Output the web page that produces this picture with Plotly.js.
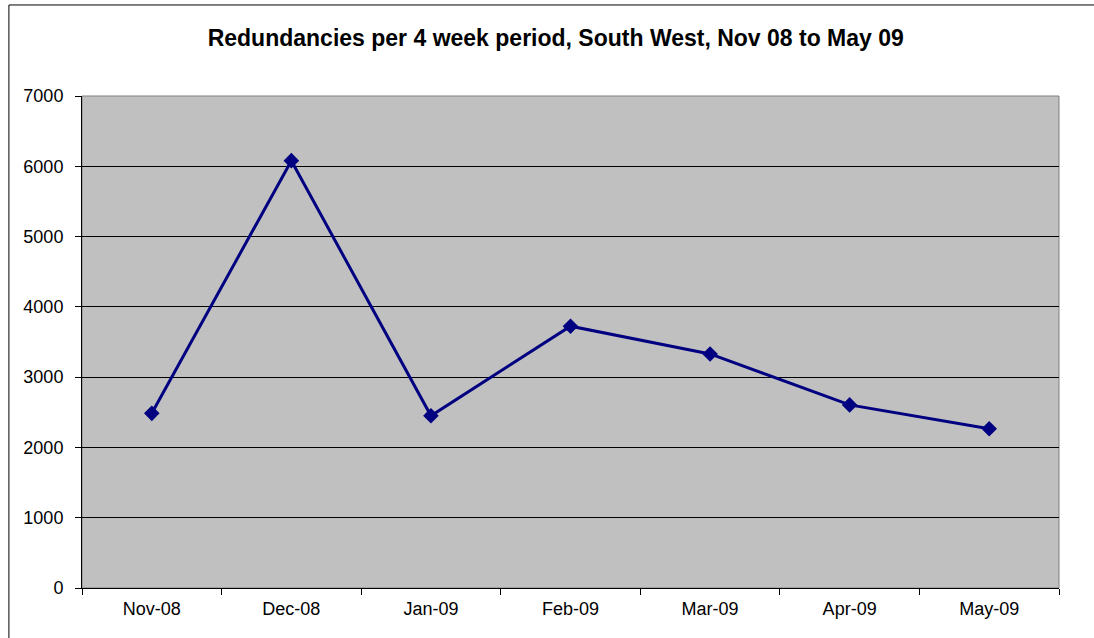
<!DOCTYPE html>
<html>
<head>
<meta charset="utf-8">
<script src="https://cdn.plot.ly/plotly-3.0.1.min.js"></script>
<style>
html,body{margin:0;padding:0;background:#fff;}
#chart{width:1094px;height:638px;}
</style>
</head>
<body>
<div id="chart"></div>
<script>
const categories = ["Nov-08", "Dec-08", "Jan-09", "Feb-09", "Mar-09", "Apr-09", "May-09"];
const redundancies = [2485, 6080, 2450, 3725, 3330, 2605, 2265];
const yTicks = [0, 1000, 2000, 3000, 4000, 5000, 6000, 7000];
const chartTitle = "Redundancies per 4 week period, South West, Nov 08 to May 09";

const font = "Liberation Sans, Arial, sans-serif";

const trace = {
  x: categories,
  y: redundancies,
  type: "scatter",
  mode: "lines+markers",
  line: {color: "#000080", width: 3},
  marker: {symbol: "diamond", size: 12, color: "#000080"},
  hoverinfo: "x+y"
};

const layout = {
  width: 1094,
  height: 638,
  margin: {l: 82, r: 35, t: 96, b: 50, pad: 0},
  paper_bgcolor: "#ffffff",
  plot_bgcolor: "#c0c0c0",
  showlegend: false,
  font: {family: font, size: 18, color: "#000"},
  title: {
    text: "<b>" + chartTitle + "</b>",
    font: {family: font, size: 23, color: "#000"},
    x: 0.508, xref: "container", xanchor: "center",
    y: 0.94, yref: "container", yanchor: "middle"
  },
  xaxis: {
    type: "category",
    tickson: "boundaries",
    ticks: "outside",
    ticklen: 6,
    tickcolor: "#000",
    ticklabelstandoff: 4,
    showline: true,
    linecolor: "#000",
    linewidth: 1,
    showgrid: false,
    zeroline: false,
    tickfont: {family: font, size: 18, color: "#000"},
    range: [-0.5, categories.length - 0.5]
  },
  yaxis: {
    range: [0, 7000],
    tickvals: yTicks,
    ticktext: yTicks.map(String),
    ticks: "outside",
    ticklen: 6,
    tickcolor: "#000",
    ticklabelstandoff: 8,
    showline: true,
    linecolor: "#000",
    linewidth: 1,
    showgrid: true,
    gridcolor: "#000",
    gridwidth: 1,
    zeroline: false,
    tickfont: {family: font, size: 18, color: "#000"}
  },
  shapes: [
    {type: "rect", xref: "paper", yref: "paper", x0: 0, x1: 1, y0: 0, y1: 1,
     line: {color: "#808080", width: 1}, fillcolor: "rgba(0,0,0,0)", layer: "below"},
    {type: "rect", xref: "paper", yref: "paper", x0: -0.0748, x1: 1.05, y0: -0.2, y1: 1.185,
     line: {color: "#000", width: 1}, fillcolor: "rgba(0,0,0,0)", layer: "above"}
  ]
};

Plotly.newPlot("chart", [trace], layout, {displayModeBar: false, staticPlot: true});
</script>
</body>
</html>
